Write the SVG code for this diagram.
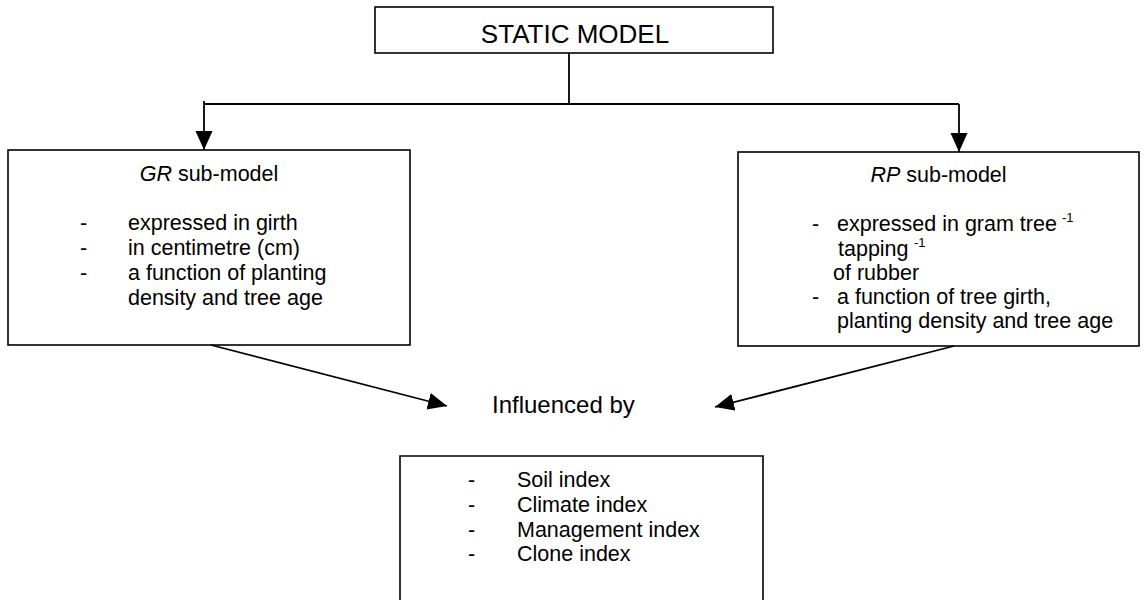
<svg xmlns="http://www.w3.org/2000/svg" width="1146" height="600" viewBox="0 0 1146 600">
<style>
.box{fill:#fff;stroke:#000;stroke-width:1.6}
.t{font-family:"Liberation Sans",Arial,sans-serif;font-size:21.5px;fill:#000}
.sup{font-family:"Liberation Sans",Arial,sans-serif;font-size:13px;fill:#000}
.ln{fill:none;stroke:#000;stroke-width:1.8}
</style>
<defs>
<marker id="ah" markerUnits="userSpaceOnUse" markerWidth="20" markerHeight="18" refX="19" refY="9" orient="auto">
<path d="M0,0.5 L19,9 L0,17.5 Z" fill="#000"/>
</marker>
</defs>
<rect width="1146" height="600" fill="#fff"/>
<g id="static-model">
<rect class="box" x="375" y="7" width="398" height="46"/>
<text class="t" x="575" y="43" text-anchor="middle" style="font-size:26px">STATIC MODEL</text>
</g>
<g id="gr-submodel">
<rect class="box" x="8" y="150" width="402" height="195"/>
<text class="t" x="209" y="181" text-anchor="middle"><tspan font-style="italic">GR</tspan> sub-model</text>
<text class="t" x="80" y="230">-</text><text class="t" x="128" y="230">expressed in girth</text>
<text class="t" x="80" y="255">-</text><text class="t" x="128" y="255">in centimetre (cm)</text>
<text class="t" x="80" y="280">-</text><text class="t" x="128" y="280">a function of planting</text>
<text class="t" x="128" y="305">density and tree age</text>
</g>
<g id="rp-submodel">
<rect class="box" x="738" y="152" width="401" height="194"/>
<text class="t" x="938.5" y="182" text-anchor="middle"><tspan font-style="italic">RP</tspan> sub-model</text>
<text class="t" x="812" y="231">-</text><text class="t" x="837" y="231">expressed in gram tree</text>
<text class="sup" x="1062" y="222">-1</text>
<text class="t" x="838" y="256">tapping</text>
<text class="sup" x="914" y="247">-1</text>
<text class="t" x="833" y="280">of rubber</text>
<text class="t" x="812" y="304">-</text><text class="t" x="837" y="304">a function of tree girth,</text>
<text class="t" x="837" y="328">planting density and tree age</text>
</g>
<g id="influenced-by">
<text class="t" x="492" y="413" style="font-size:24px">Influenced by</text>
</g>
<g id="indices">
<path class="box" d="M400,600 L400,456 L763,456 L763,600" fill="#fff"/>
<text class="t" x="468" y="487">-</text><text class="t" x="517" y="487">Soil index</text>
<text class="t" x="468" y="512">-</text><text class="t" x="517" y="512">Climate index</text>
<text class="t" x="468" y="537">-</text><text class="t" x="517" y="537">Management index</text>
<text class="t" x="468" y="561">-</text><text class="t" x="517" y="561">Clone index</text>
</g>
<g id="connectors">
<path class="ln" d="M569,53 L569,104"/>
<path class="ln" d="M204,104 L959,104"/>
<path class="ln" d="M204,101 L204,150" marker-end="url(#ah)"/>
<path class="ln" d="M959,104 L959,152" marker-end="url(#ah)"/>
<path class="ln" d="M211,345 L447,406" marker-end="url(#ah)"/>
<path class="ln" d="M954,346 L715,407" marker-end="url(#ah)"/>
</g>
</svg>
